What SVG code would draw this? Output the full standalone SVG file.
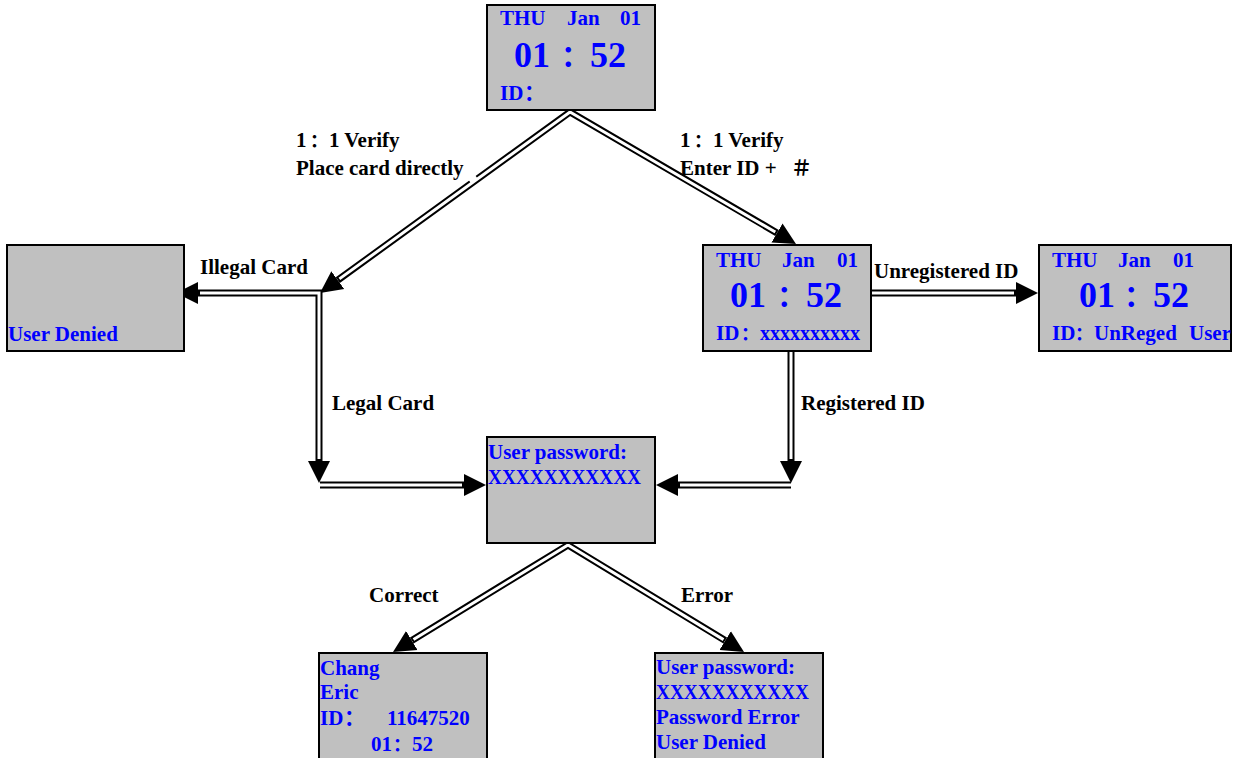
<svg xmlns="http://www.w3.org/2000/svg" width="1235" height="758" viewBox="0 0 1235 758">
<style>
.box{fill:#c0c0c0;stroke:#000;stroke-width:2}
.b{fill:#0000ff;font-family:"Liberation Serif","Noto Sans CJK SC",serif;font-weight:bold;font-size:21px}
.big{font-size:36px}
.col{font-size:29px}
.sc{font-size:18px}
.lbl{fill:#000;font-family:"Liberation Serif","Noto Sans CJK SC",serif;font-weight:bold;font-size:21px}
.o{fill:none;stroke:#000;stroke-width:7;stroke-linejoin:miter}
.i{fill:none;stroke:#fff;stroke-width:3;stroke-linejoin:miter}
</style>
<defs>
<marker id="ah" markerUnits="userSpaceOnUse" markerWidth="24" markerHeight="24" refX="0" refY="11" orient="auto-start-reverse" viewBox="0 0 24 22">
<path d="M0,0 L22,11 L0,22 Z" fill="#000"/>
</marker>
</defs>
<rect width="1235" height="758" fill="#fff"/>

<g id="connectors">
<path class="o" d="M337.8,280.1 L570,112 L777,232.9" marker-start="url(#ah)" marker-end="url(#ah)"/>
<path class="i" d="M339.4,278.9 L570,112 L775.3,232" />
<path class="o" d="M198,293 H319 V461" marker-start="url(#ah)" marker-end="url(#ah)"/>
<path class="i" d="M200,293 H319 V459"/>
<path class="o" d="M320,485 H464" marker-end="url(#ah)"/>
<path class="i" d="M320,485 H462"/>
<path class="o" d="M872,293 H1016" marker-end="url(#ah)"/>
<path class="i" d="M872,293 H1014"/>
<path class="o" d="M791,351 V461" marker-end="url(#ah)"/>
<path class="i" d="M791,351 V459"/>
<path class="o" d="M791,485 H678" marker-end="url(#ah)"/>
<path class="i" d="M791,485 H680"/>
<path class="o" d="M411.8,640.5 L568,545 L725.2,640.6" marker-start="url(#ah)" marker-end="url(#ah)"/>
<path class="i" d="M413.5,639.5 L568,545 L723.5,639.6"/>
<rect x="466" y="168" width="8" height="14" fill="#fff" transform="rotate(-36 470 175)"/>
</g>

<g id="labels">
<text class="lbl" x="296" y="147">1<tspan class="sc" x="310">：</tspan><tspan x="329">1 Verify</tspan></text>
<text class="lbl" x="296" y="175">Place card directly</text>
<text class="lbl" x="680" y="147">1<tspan class="sc" x="694">：</tspan><tspan x="713">1 Verify</tspan></text>
<text class="lbl" x="680" y="175">Enter ID +<tspan x="791">＃</tspan></text>
<text class="lbl" x="200" y="274">Illegal Card</text>
<text class="lbl" x="874" y="278">Unregistered ID</text>
<text class="lbl" x="332" y="410">Legal Card</text>
<text class="lbl" x="801" y="410">Registered ID</text>
<text class="lbl" x="369" y="602">Correct</text>
<text class="lbl" x="681" y="602">Error</text>
</g>

<g id="node-top">
<rect class="box" x="487" y="5" width="168" height="105"/>
<text class="b" y="25"><tspan x="500">THU</tspan><tspan x="567">Jan</tspan><tspan x="620">01</tspan></text>
<text class="b big" y="67"><tspan x="514">01</tspan><tspan class="col" x="561">：</tspan><tspan x="590">52</tspan></text>
<text class="b" y="100"><tspan x="500">ID</tspan><tspan x="524">：</tspan></text>
</g>

<g id="node-denied">
<rect class="box" x="7" y="245" width="177" height="106"/>
<text class="b" x="8" y="341">User Denied</text>
</g>

<g id="node-id">
<rect class="box" x="703" y="245" width="168" height="106"/>
<text class="b" y="267"><tspan x="716">THU</tspan><tspan x="782">Jan</tspan><tspan x="837">01</tspan></text>
<text class="b big" y="307"><tspan x="730">01</tspan><tspan class="col" x="777">：</tspan><tspan x="806">52</tspan></text>
<text class="b" y="340"><tspan x="716">ID</tspan><tspan class="sc" x="741">：</tspan><tspan x="760" font-size="20">xxxxxxxxxx</tspan></text>
</g>

<g id="node-unreg">
<rect class="box" x="1039" y="245" width="192" height="106"/>
<text class="b" y="267"><tspan x="1052">THU</tspan><tspan x="1118">Jan</tspan><tspan x="1173">01</tspan></text>
<text class="b big" y="307"><tspan x="1079">01</tspan><tspan class="col" x="1124">：</tspan><tspan x="1153">52</tspan></text>
<text class="b" y="340"><tspan x="1052">ID</tspan><tspan class="sc" x="1075">：</tspan><tspan x="1094">UnReged</tspan><tspan x="1189">User</tspan></text>
</g>

<g id="node-password">
<rect class="box" x="487" y="437" width="168" height="106"/>
<text class="b" x="488" y="459">User password:</text>
<text class="b" x="488" y="484" textLength="153" lengthAdjust="spacingAndGlyphs">XXXXXXXXXXX</text>
</g>

<g id="node-correct">
<rect class="box" x="319" y="653" width="168" height="120"/>
<text class="b" x="320" y="675">Chang</text>
<text class="b" x="320" y="699">Eric</text>
<text class="b" y="725"><tspan x="320">ID</tspan><tspan x="344">：</tspan><tspan x="387">11647520</tspan></text>
<text class="b" y="751"><tspan x="371">01</tspan><tspan class="sc" x="393">：</tspan><tspan x="412">52</tspan></text>
</g>

<g id="node-error">
<rect class="box" x="655" y="653" width="168" height="120"/>
<text class="b" x="656" y="674">User password:</text>
<text class="b" x="656" y="699" textLength="153" lengthAdjust="spacingAndGlyphs">XXXXXXXXXXX</text>
<text class="b" x="656" y="724">Password Error</text>
<text class="b" x="656" y="749">User Denied</text>
</g>
</svg>
